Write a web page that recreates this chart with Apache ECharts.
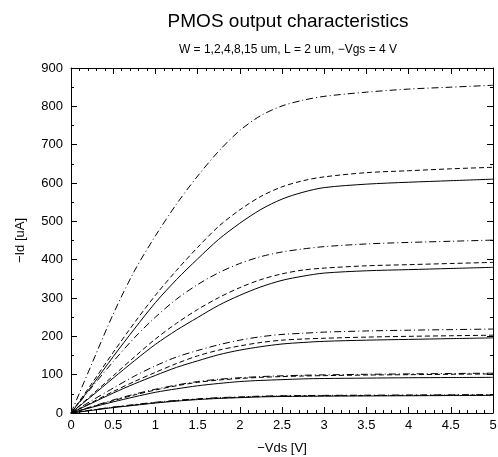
<!DOCTYPE html>
<html>
<head>
<meta charset="utf-8">
<script src="https://cdn.jsdelivr.net/npm/echarts@6/dist/echarts.min.js"></script>
<style>
  html, body { margin: 0; padding: 0; background: #fff; }
  #chart { width: 498px; height: 457px; }
</style>
</head>
<body>
<div id="chart"></div>
<script>
    // -Vds sample points [V]
    var vds = [0, 0.25, 0.5, 0.75, 1, 1.25, 1.5, 1.75, 2, 2.25, 2.5, 2.75, 3, 3.5, 4, 4.5, 5];

    // -Id [uA], solid curves, W = 1,2,4,8,15 um
    var solidW1  = [0, 7, 14, 20, 26, 31, 35, 38, 40, 42, 43, 43.5, 44, 44.5, 45, 45.5, 46];
    var solidW2  = [0, 15, 29, 42, 54, 63, 71, 77, 82, 85, 87, 89, 90, 91, 92, 92.5, 93];
    var solidW4  = [0, 26, 52, 76, 98, 119, 136, 152, 164, 173, 180, 184, 187, 190, 192, 194, 196];
    var solidW8  = [0, 45, 91, 136, 179, 216, 249, 281, 307, 329, 346, 357, 365, 371, 374, 377, 380];
    var solidW15 = [0, 72, 147, 219, 288, 348, 402, 453, 495, 531, 558, 576, 588, 597, 602, 606, 610];

    // dashed curves
    var dashW1  = [0, 7.5, 15, 21, 27, 32, 36, 39, 41, 43, 44, 44.5, 45, 45.5, 46, 46.5, 47];
    var dashW2  = [0, 16, 32, 47, 60, 71, 80, 86, 90, 93, 95, 96.5, 97.5, 99, 100, 101, 102];
    var dashW4  = [0, 28, 56, 82, 106, 129, 149, 164, 175, 184, 190, 193, 195, 198, 200, 201.5, 203];
    var dashW8  = [0, 48, 97, 146, 193, 234, 270, 301, 327, 348, 363, 373, 378, 384, 387, 390, 393];
    var dashW15 = [0, 78, 158, 235, 307, 372, 432, 487, 530, 565, 590, 606, 616, 627, 632, 637, 641];

    // dash-dot curves
    var dotW1  = [0, 8, 15.5, 22, 28, 33, 37, 40, 42, 44, 45, 45.5, 46, 46.5, 47, 47.5, 48];
    var dotW2  = [0, 17, 34, 49, 62, 73, 82, 88, 92, 95, 97, 98.5, 99.5, 101, 102, 103, 104];
    var dotW4  = [0, 33, 65, 96, 123, 146, 163, 178, 190, 199, 205, 208, 211, 214, 216, 217.5, 219];
    var dotW8  = [0, 68, 134, 196, 250, 297, 335, 366, 390, 408, 420, 428, 434, 441, 445, 448, 451];
    var dotW15 = [0, 130, 258, 370, 462, 545, 618, 683, 737, 776, 801, 816, 826, 837, 845, 850, 855];

    var font = '"Liberation Sans", Arial, sans-serif';

    function pairs(ys) {
        return vds.map(function(v, i) { return [v, ys[i]]; });
    }

    function curve(ys, dash) {
        return {
            type: 'line',
            data: pairs(ys),
            smooth: 0.3,
            showSymbol: false,
            silent: true,
            lineStyle: { color: '#000', width: 1, type: dash }
        };
    }

    // one axis of the box; labelled = bottom / left
    function boxAxis(pos, min, max, step, minor, labelled) {
        return {
            type: 'value',
            position: pos,
            min: min, max: max, interval: step,
            axisLine: { show: true, onZero: false, lineStyle: { color: '#000', width: 1 } },
            axisTick: { show: true, inside: true, length: 6, lineStyle: { color: '#000', width: 1 } },
            minorTick: { show: true, splitNumber: minor, length: 3, lineStyle: { color: '#000', width: 1 } },
            splitLine: { show: false },
            minorSplitLine: { show: false },
            axisLabel: { show: labelled, fontFamily: font, fontSize: 13, color: '#000', margin: 6 }
        };
    }

    var xBottom = boxAxis('bottom', 0, 5, 0.5, 5, true);
    xBottom.name = '\u2212Vds [V]';
    xBottom.nameLocation = 'middle';
    xBottom.nameGap = 29;
    xBottom.nameTextStyle = { fontFamily: font, fontSize: 13, color: '#000' };

    var yLeft = boxAxis('left', 0, 900, 100, 2, true);
    yLeft.axisLabel.margin = 8;
    yLeft.name = '\u2212Id [uA]';
    yLeft.nameLocation = 'middle';
    yLeft.nameGap = 44;
    yLeft.nameTextStyle = { fontFamily: font, fontSize: 13, color: '#000' };

    var chart = echarts.init(document.getElementById('chart'));
    chart.setOption({
        animation: false,
        title: [
            {
                text: 'PMOS output characteristics',
                left: 283, top: 7, textAlign: 'center',
                textStyle: { fontFamily: font, fontSize: 19, fontWeight: 'normal', color: '#000' }
            },
            {
                text: 'W = 1,2,4,8,15 um, L = 2 um, \u2212Vgs = 4 V',
                left: 283, top: 39, textAlign: 'center',
                textStyle: { fontFamily: font, fontSize: 12, fontWeight: 'normal', color: '#000' }
            }
        ],
        grid: { left: 71, right: 5, top: 68, bottom: 44, outerBoundsMode: 'none' },
        xAxis: [xBottom, boxAxis('top', 0, 5, 0.5, 5, false)],
        yAxis: [yLeft, boxAxis('right', 0, 900, 100, 2, false)],
        series: [
            curve(solidW1, 'solid'), curve(solidW2, 'solid'), curve(solidW4, 'solid'),
            curve(solidW8, 'solid'), curve(solidW15, 'solid'),
            curve(dashW1, [5, 3]), curve(dashW2, [5, 3]), curve(dashW4, [5, 3]),
            curve(dashW8, [5, 3]), curve(dashW15, [5, 3]),
            curve(dotW1, [7, 3, 1, 3]), curve(dotW2, [7, 3, 1, 3]), curve(dotW4, [7, 3, 1, 3]),
            curve(dotW8, [7, 3, 1, 3]), curve(dotW15, [7, 3, 1, 3])
        ]
    });
</script>
</body>
</html>
